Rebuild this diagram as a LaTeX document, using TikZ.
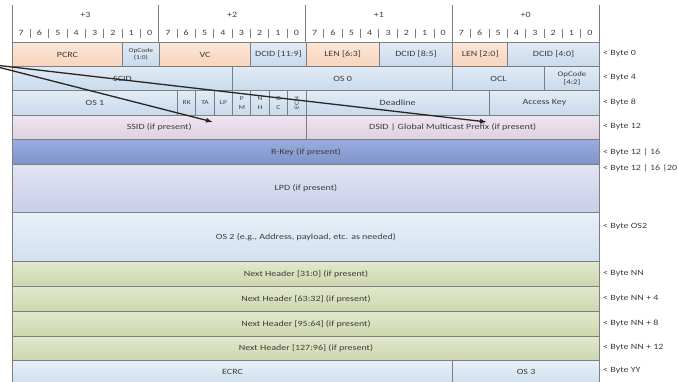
\documentclass[tikz,border=0pt]{standalone}
\usepackage{fontspec}
\usepackage{graphicx}
\setmainfont{Carlito}[FakeStretch=1.25]
\usetikzlibrary{arrows.meta}
\definecolor{txt}{HTML}{3C3C3C}
\definecolor{bordergray}{HTML}{7E7E7E}
\definecolor{peachT}{HTML}{FCE6D6}
\definecolor{peachB}{HTML}{F7D4BC}
\definecolor{blueT}{HTML}{E1EBF5}
\definecolor{blueB}{HTML}{C9DAEC}
\definecolor{lilacT}{HTML}{EFE5F0}
\definecolor{lilacB}{HTML}{DDD0E2}
\definecolor{rkT}{HTML}{9AADDD}
\definecolor{rkB}{HTML}{7E93CB}
\definecolor{lpdT}{HTML}{E0E4F3}
\definecolor{lpdB}{HTML}{C8CEE9}
\definecolor{os2T}{HTML}{E8F0F8}
\definecolor{os2B}{HTML}{D2E0EF}
\definecolor{nhT}{HTML}{E2E8CD}
\definecolor{nhB}{HTML}{CDD6AE}
\newcommand{\pktbits}[7]{\node[cell,#6,minimum width={#3*18.34375pt},minimum height={#5pt},anchor=north west] (#1) at ({12+#2*18.34375},{-#4}) {#7};}
\newcommand{\pktlabel}[3]{\node[bytelabel] (#1) at (603,{-#2}) {< Byte #3};}
\begin{document}
\begin{tikzpicture}[x=1pt,y=1pt,
  cell/.style={draw=bordergray,line width=0.9pt,inner sep=0pt,font=\fontsize{8}{9}\selectfont,text=txt,align=center},
  peach/.style={top color=peachT,bottom color=peachB},
  lblue/.style={top color=blueT,bottom color=blueB},
  lilac/.style={top color=lilacT,bottom color=lilacB},
  rkey/.style={top color=rkT,bottom color=rkB},
  lpd/.style={top color=lpdT,bottom color=lpdB},
  osb/.style={top color=os2T,bottom color=os2B},
  nhdr/.style={top color=nhT,bottom color=nhB},
  tiny/.style={font=\fontsize{6}{6.5}\selectfont},
  small/.style={font=\fontsize{7}{7.5}\selectfont},
  bytelabel/.style={anchor=west,inner sep=0pt,font=\fontsize{8}{9}\selectfont,text=txt},
  hdr/.style={inner sep=0pt,font=\fontsize{8}{9}\selectfont,text=txt},
  tick/.style={draw=bordergray,line width=0.8pt},
  ptr/.style={draw=black!85,line width=1.3pt,-{Latex[length=7pt,width=5pt]}}]
\useasboundingbox (0,0) rectangle (678,-381);

% header
\foreach \k in {0,...,4}{
  \draw[tick] ({12+\k*146.75},-5) -- ({12+\k*146.75},-42);
}
\foreach \k/\t in {0/+3,1/+2,2/+1,3/+0}{
  \node[hdr] (byte\k) at ({12+(\k+0.5)*146.75},-15) {\t};
}
\foreach \i in {0,...,31}{
  \pgfmathtruncatemacro{\d}{7-mod(\i,8)}
  \node[hdr] (bit\i) at ({12+(\i+0.5)*18.34375},-33) {\d};
}
\foreach \i in {1,...,31}{
  \pgfmathtruncatemacro{\m}{mod(\i,8)}
  \ifnum\m>0
    \draw[tick] ({12+\i*18.34375},-29) -- ({12+\i*18.34375},-38);
  \fi
}

% row 0
\pktbits{pcrc}{0}{6}{42}{24}{peach}{PCRC}
\pktbits{opc}{6}{2}{42}{24}{lblue,tiny}{OpCode\\(1:0)}
\pktbits{vc}{8}{5}{42}{24}{peach}{VC}
\pktbits{dcida}{13}{3}{42}{24}{lblue}{DCID [11:9]}
\pktbits{lena}{16}{4}{42}{24}{peach}{LEN [6:3]}
\pktbits{dcidb}{20}{4}{42}{24}{lblue}{DCID [8:5]}
\pktbits{lenb}{24}{3}{42}{24}{peach}{LEN [2:0]}
\pktbits{dcidc}{27}{5}{42}{24}{lblue}{DCID [4:0]}
% row 1
\pktbits{scid}{0}{12}{66}{24}{lblue}{SCID}
\pktbits{os0}{12}{12}{66}{24}{lblue}{OS 0}
\pktbits{ocl}{24}{5}{66}{24}{lblue}{OCL}
\pktbits{opcb}{29}{3}{66}{24}{lblue,small}{OpCode\\{}[4:2]}
% row 2
\pktbits{os1}{0}{9}{90}{25}{lblue}{OS 1}
\pktbits{rk}{9}{1}{90}{25}{lblue,tiny}{RK}
\pktbits{ta}{10}{1}{90}{25}{lblue,tiny}{TA}
\pktbits{lp}{11}{1}{90}{25}{lblue,tiny}{LP}
\pktbits{pm}{12}{1}{90}{25}{lblue,tiny}{P\\[2pt]M}
\pktbits{nh}{13}{1}{90}{25}{lblue,tiny}{N\\[2pt]H}
\pktbits{gc}{14}{1}{90}{25}{lblue,tiny}{G\\[2pt]C}
\pktbits{ecn}{15}{1}{90}{25}{lblue,tiny}{\rotatebox{90}{ECN}}
\pktbits{deadline}{16}{10}{90}{25}{lblue}{Deadline}
\pktbits{akey}{26}{6}{90}{25}{lblue}{Access Key}
% row 3
\pktbits{ssid}{0}{16}{115}{24}{lilac}{SSID (if present)}
\pktbits{dsid}{16}{16}{115}{24}{lilac}{DSID | Global Multicast Prefix (if present)}
% full rows
\pktbits{rkey}{0}{32}{139}{25}{rkey}{R-Key (if present)}
\pktbits{lpdrow}{0}{32}{164}{48}{lpd}{LPD (if present)}
\pktbits{os2}{0}{32}{212}{49}{osb}{OS 2 (e.g., Address, payload, etc. as needed)}
\pktbits{nha}{0}{32}{261}{25}{nhdr}{Next Header [31:0] (if present)}
\pktbits{nhb}{0}{32}{286}{25}{nhdr}{Next Header [63:32] (if present)}
\pktbits{nhc}{0}{32}{311}{25}{nhdr}{Next Header [95:64] (if present)}
\pktbits{nhd}{0}{32}{336}{24}{nhdr}{Next Header [127:96] (if present)}
\pktbits{ecrc}{0}{24}{360}{22}{osb}{ECRC}
\pktbits{os3}{24}{8}{360}{22}{osb}{OS 3}

% byte labels
\pktlabel{lb0}{54}{0}
\pktlabel{lb4}{78}{4}
\pktlabel{lb8}{102.5}{8}
\pktlabel{lb12}{127}{12}
\pktlabel{lb16}{152}{12 | 16}
\pktlabel{lb20}{168}{12 | 16 |20}
\pktlabel{lbos}{227}{OS2}
\pktlabel{lbnn}{273.5}{NN}
\pktlabel{lbnn4}{298.5}{NN + 4}
\pktlabel{lbnn8}{323.5}{NN + 8}
\pktlabel{lbnn12}{348}{NN + 12}
\pktlabel{lbyy}{371}{YY}

% pointers
\coordinate (src) at (-14,-64);
\coordinate (ssidtip) at (213,-122);
\coordinate (dsidtip) at (487,-122);
\draw[ptr] (src) -- (ssidtip);
\draw[ptr] (src) -- (dsidtip);
\end{tikzpicture}
\end{document}
